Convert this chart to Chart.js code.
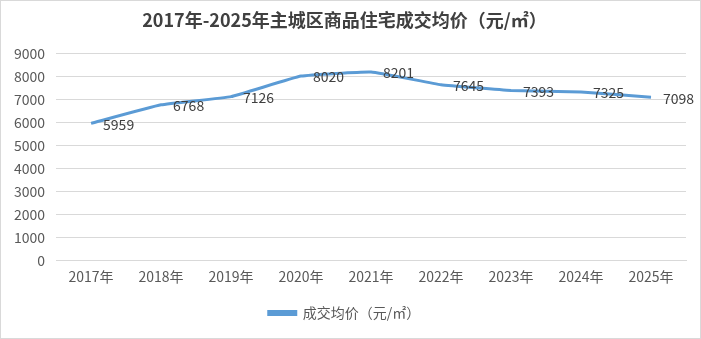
<!DOCTYPE html>
<html>
<head>
<meta charset="utf-8">
<script src="https://cdn.jsdelivr.net/npm/chart.js@4/dist/chart.umd.min.js"></script>
<style>
	body { margin: 0; background: #fff; }
	#wrap { width: 699px; height: 337px; border: 1px solid #d9d9d9; }
</style>
</head>
<body>
<div id="wrap"><canvas id="pChart" width="699" height="337"></canvas></div>
<script>
const years = ["2017年", "2018年", "2019年", "2020年", "2021年", "2022年", "2023年", "2024年", "2025年"];
const prices = [5959, 6768, 7126, 8020, 8201, 7645, 7393, 7325, 7098];
const yTicks = [0, 1000, 2000, 3000, 4000, 5000, 6000, 7000, 8000, 9000];

const fontFam = "'Noto Sans CJK SC', 'Noto Sans', sans-serif";

// labels to the right of each point
const pointLabels = {
	id: "pointLabels",
	afterDatasetsDraw(chart) {
		const c = chart.ctx;
		const meta = chart.getDatasetMeta(0);
		c.save();
		c.font = "14px " + fontFam;
		c.fillStyle = "#404040";
		c.textAlign = "left";
		c.textBaseline = "middle";
		meta.data.forEach(function (pt, i) {
			c.fillText(String(prices[i]), pt.x + 12, pt.y + 1);
		});
		c.restore();
	},
};

const ctx = document.getElementById("pChart");
const myChart = new Chart(ctx, {
	type: "line",
	data: {
		labels: years,
		datasets: [
			{
				label: "成交均价（元/㎡）",
				data: prices,
				borderColor: "#5b9bd5",
				backgroundColor: "#5b9bd5",
				borderWidth: 3,
				pointRadius: 0,
				tension: 0.1,
			},
		],
	},
	options: {
		responsive: false,
		animation: false,
		layout: { padding: { left: 2, right: 14, top: 2, bottom: 8 } },
		plugins: {
			title: {
				display: true,
				text: "2017年-2025年主城区商品住宅成交均价（元/㎡）",
				color: "#404040",
				font: { family: fontFam, size: 18, weight: "bold" },
				padding: { top: 6, bottom: 23 },
			},
			legend: {
				position: "bottom",
				labels: {
					boxWidth: 27,
					boxHeight: 3,
					color: "#595959",
					font: { family: fontFam, size: 14 },
					padding: 21,
				},
			},
			tooltip: { enabled: false },
		},
		scales: {
			x: {
				offset: true,
				grid: { display: false },
				border: { color: "#d9d9d9" },
				ticks: { color: "#595959", font: { family: fontFam, size: 14 }, padding: 0 },
			},
			y: {
				min: 0,
				max: 9000,
				afterBuildTicks(axis) {
					axis.ticks = yTicks.map(function (v) { return { value: v }; });
				},
				grid: { color: "#d9d9d9", drawTicks: false },
				border: { display: false },
				ticks: {
					color: "#595959",
					font: { family: fontFam, size: 14 },
					padding: 11,
					callback: function (v) { return String(v); },
				},
			},
		},
	},
	plugins: [pointLabels],
});
</script>
</body>
</html>
